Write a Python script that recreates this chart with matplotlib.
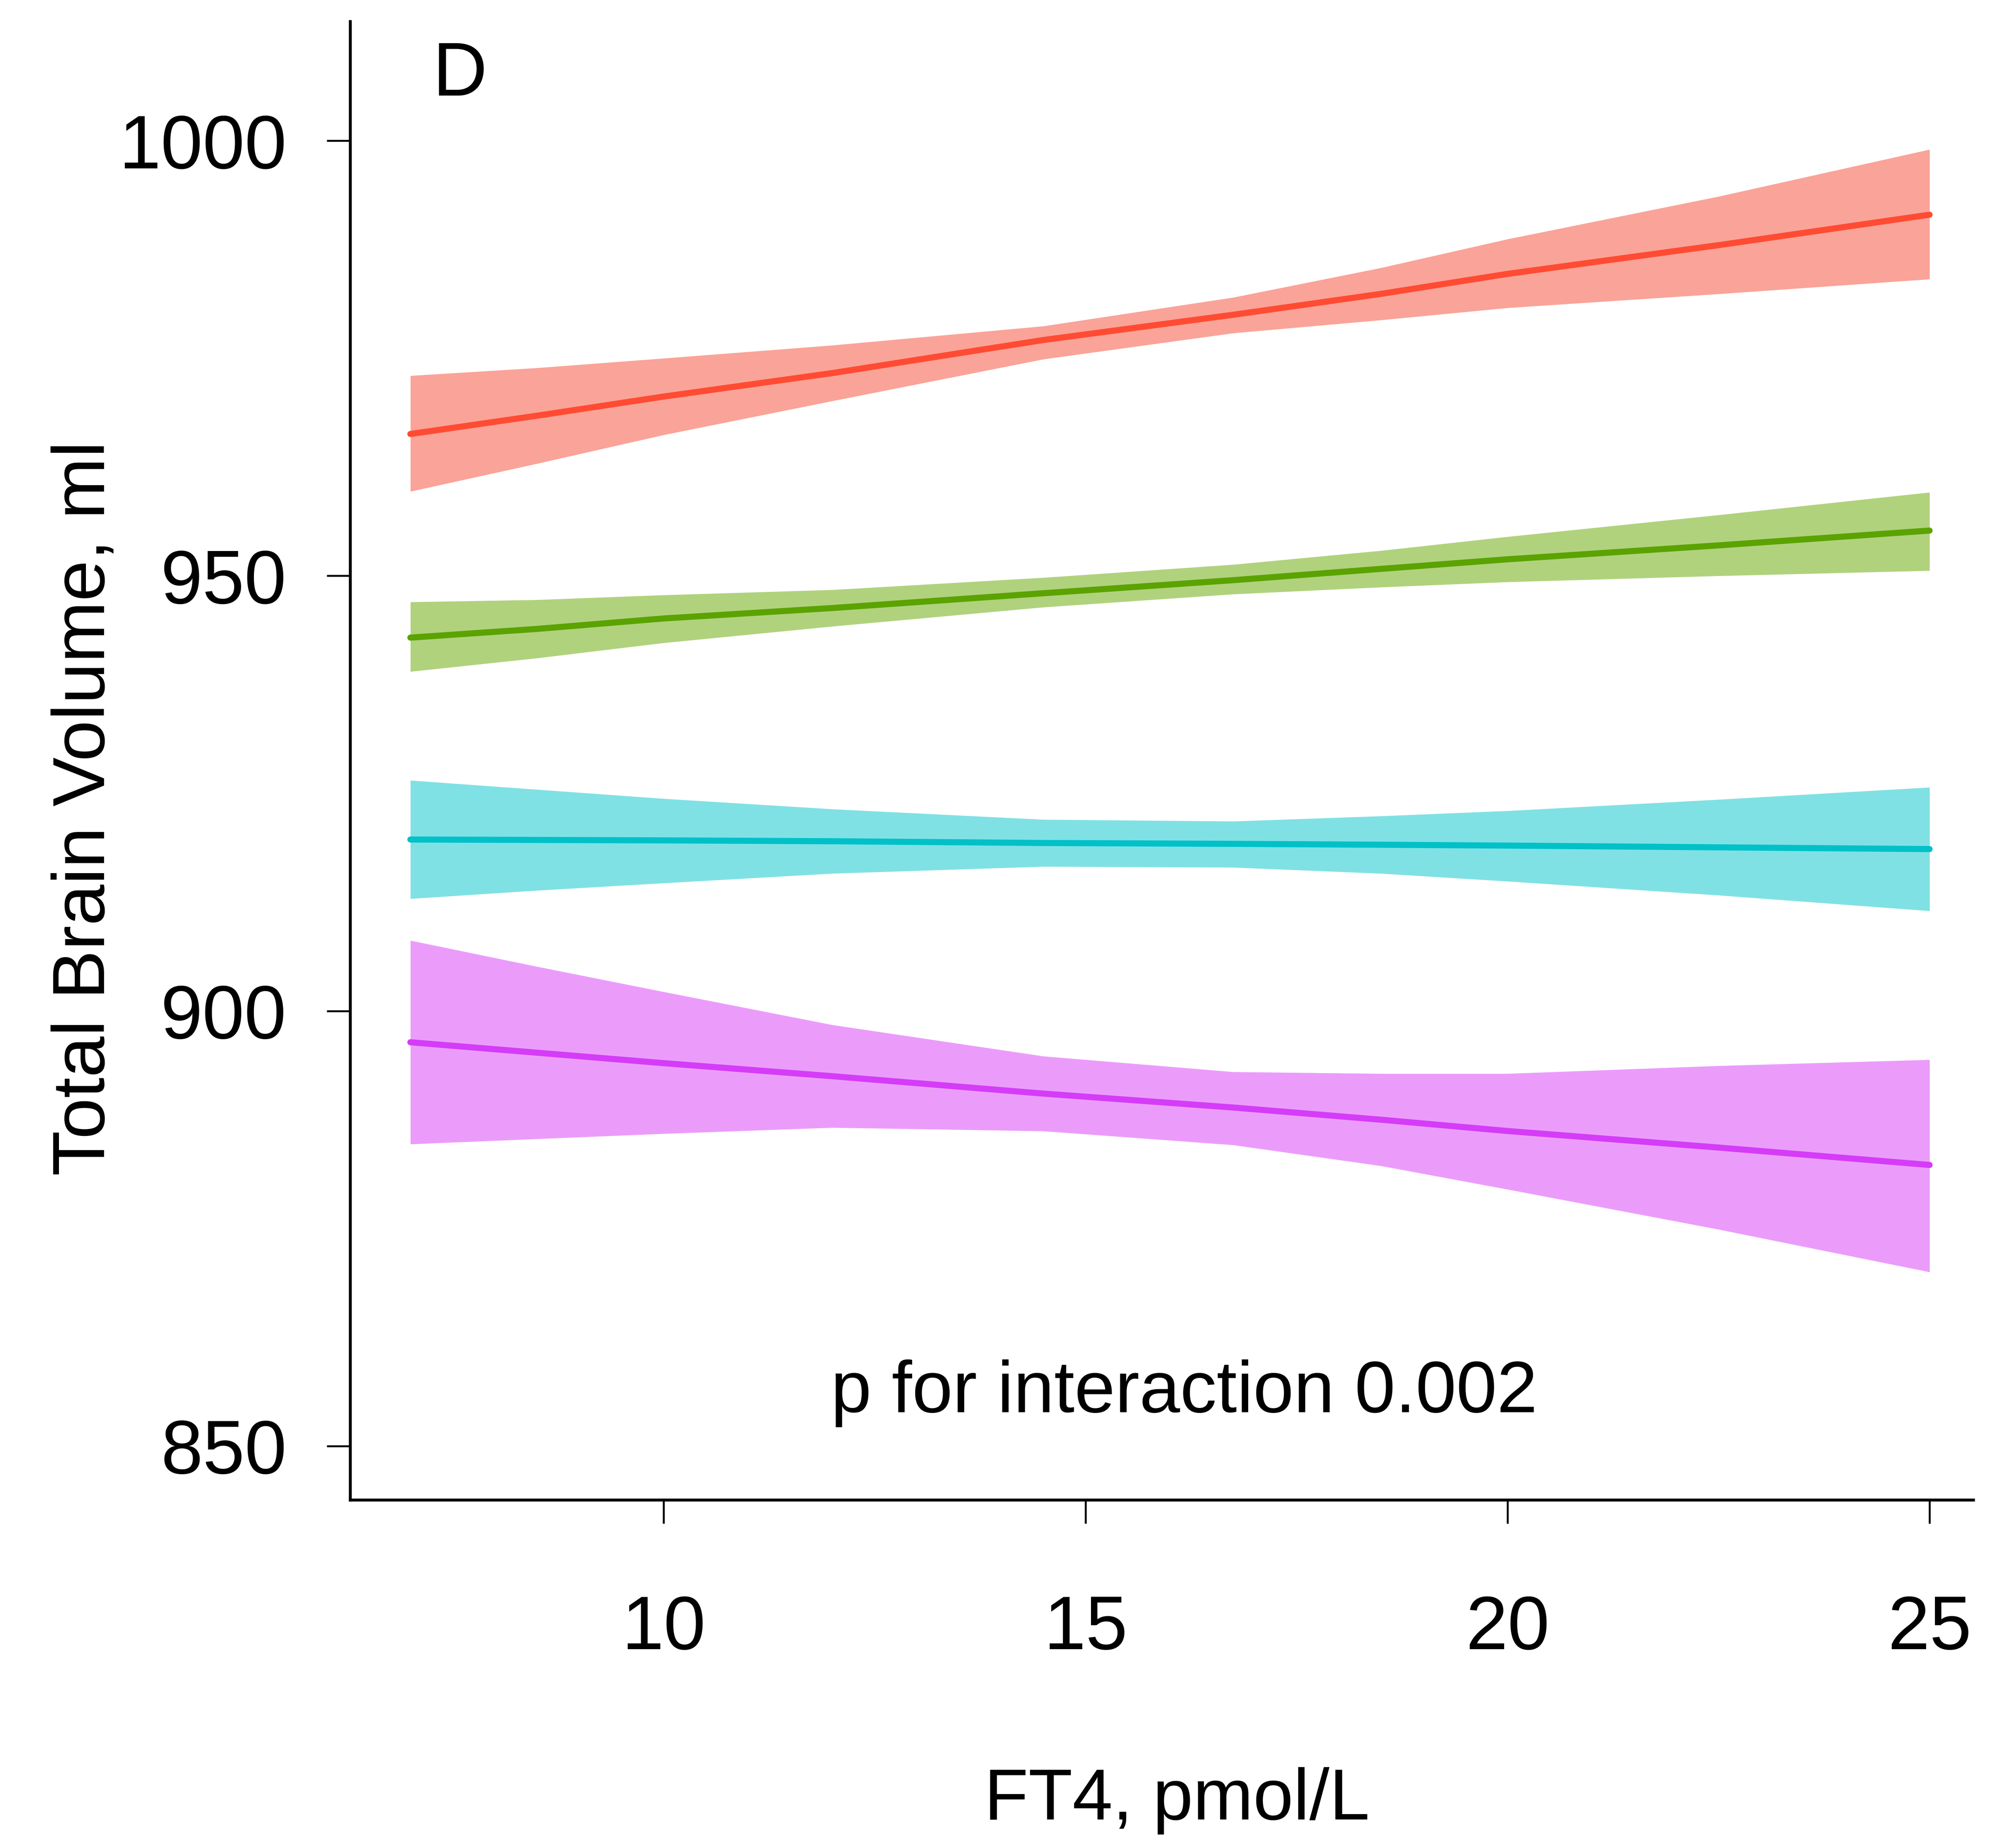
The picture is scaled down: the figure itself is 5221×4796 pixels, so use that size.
import matplotlib.pyplot as plt
import numpy as np

plt.rcParams['font.family'] = ['Liberation Sans', 'DejaVu Sans']

ft4 = [7, 8.5, 10, 12, 14.5, 16.75, 18.5, 20, 22.5, 25]

red_fit = [966.3, 968.4, 970.6, 973.3, 977.1, 980.0, 982.4, 984.7, 988.0, 991.5]
red_lo = [959.7, 962.9, 966.2, 970.1, 974.9, 977.9, 979.4, 980.8, 982.4, 984.1]
red_hi = [973.0, 973.9, 975.0, 976.5, 978.7, 982.0, 985.4, 988.7, 993.6, 999.0]

green_fit = [942.9, 943.9, 945.1, 946.3, 948.0, 949.5, 950.8, 951.9, 953.5, 955.2]
green_lo = [939.0, 940.55, 942.3, 944.2, 946.4, 947.9, 948.7, 949.3, 950.0, 950.6]
green_hi = [947.0, 947.25, 947.8, 948.4, 949.8, 951.3, 952.9, 954.5, 957.0, 959.6]

cyan_fit = [919.7, 919.65, 919.6, 919.5, 919.3, 919.2, 919.1, 919.0, 918.8, 918.6]
cyan_lo = [912.9, 913.85, 914.7, 915.8, 916.6, 916.5, 915.8, 914.9, 913.3, 911.5]
cyan_hi = [926.5, 925.45, 924.4, 923.2, 922.0, 921.8, 922.4, 923.0, 924.3, 925.7]

purple_fit = [896.4, 895.2, 894.0, 892.5, 890.5, 888.9, 887.5, 886.2, 884.3, 882.3]
purple_lo = [884.7, 885.3, 885.9, 886.6, 886.2, 884.6, 882.2, 879.5, 874.9, 870.0]
purple_hi = [908.1, 905.1, 902.2, 898.4, 894.8, 893.0, 892.8, 892.8, 893.7, 894.4]

x_ticks = [10, 15, 20, 25]
y_ticks = [850, 900, 950, 1000]

groups = [
    (red_fit, red_lo, red_hi, '#FF4B33', '#FAA398'),
    (green_fit, green_lo, green_hi, '#5AA300', '#B0D27D'),
    (cyan_fit, cyan_lo, cyan_hi, '#00C0C8', '#80E1E4'),
    (purple_fit, purple_lo, purple_hi, '#D43CF7', '#EB9CFB'),
]

fig = plt.figure(figsize=(5221 / 300, 4796 / 300), dpi=300)
ax = fig.add_axes([0.1741, 0.18832, 0.80674, 0.80004])

for fit, lo, hi, line_col, band_col in groups:
    ax.fill_between(ft4, lo, hi, color=band_col, linewidth=0, zorder=1)
    ax.plot(ft4, fit, color=line_col, linewidth=3.8, solid_capstyle='round', zorder=2)

ax.set_xlim(6.288, 25.52)
ax.set_ylim(843.8, 1013.7)
ax.set_xticks(x_ticks)
ax.set_yticks(y_ticks)

ax.spines['top'].set_visible(False)
ax.spines['right'].set_visible(False)
ax.spines['left'].set_linewidth(1.8)
ax.spines['bottom'].set_linewidth(1.8)
ax.tick_params(axis='y', direction='out', length=14.6, width=1.2, pad=25, labelsize=47)
ax.tick_params(axis='x', direction='out', length=14.6, width=1.2, pad=44, labelsize=47)

ax.text(7.265, 1005.2, 'D', fontsize=47, ha='left', va='baseline')
ax.text(16.17, 853.9, 'p for interaction 0.002', fontsize=45.5, ha='center', va='baseline')

fig.text(221 / 5221, 1 - 2098 / 4796, 'Total Brain Volume, ml', fontsize=46,
         rotation=90, ha='center', va='center')
fig.text(3054 / 5221, 1 - 4722 / 4796, 'FT4, pmol/L', fontsize=45, ha='center', va='baseline')

plt.savefig('out.png', dpi=300)
